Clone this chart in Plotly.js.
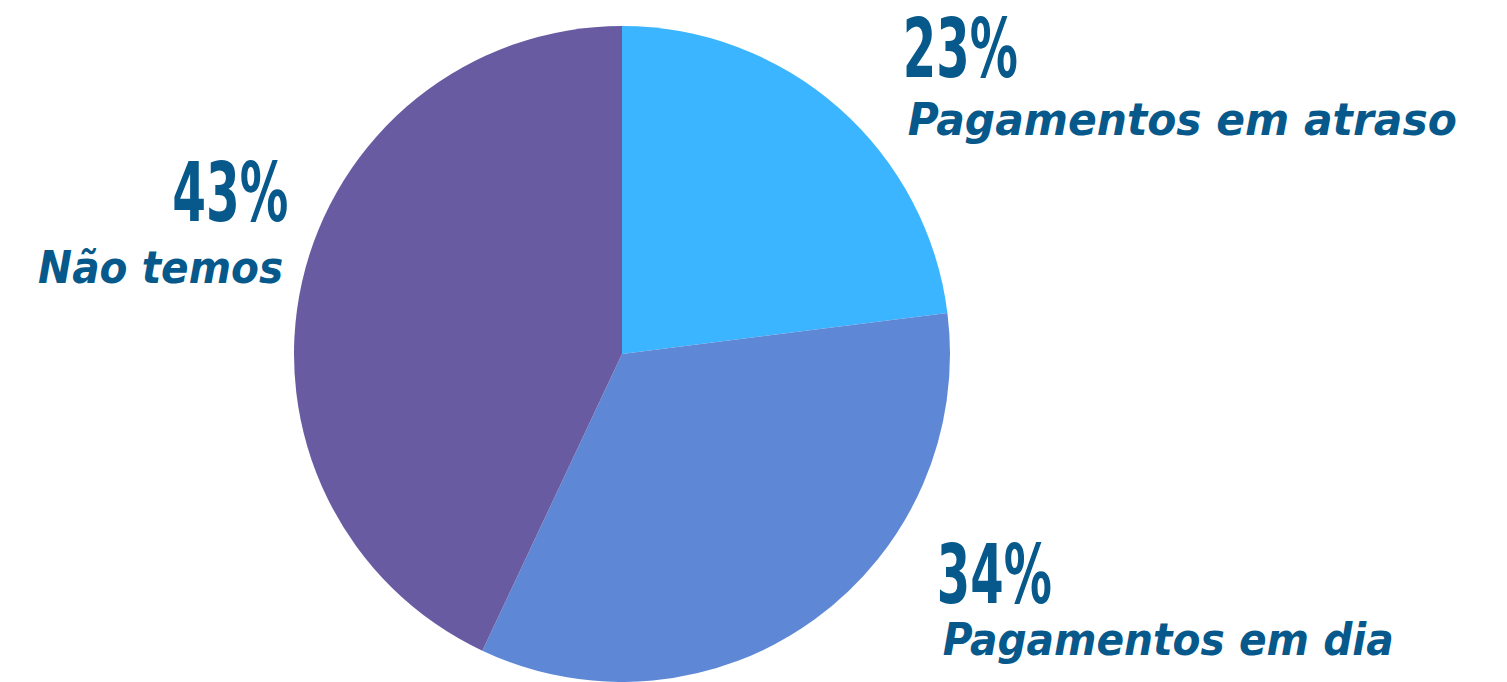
<!DOCTYPE html>
<html>
<head>
<meta charset="utf-8">
<script src="https://cdn.plot.ly/plotly-3.0.1.min.js"></script>
<style>
  html, body { margin: 0; padding: 0; background: #ffffff; }
  #chart { width: 1507px; height: 682px; }
</style>
</head>
<body>
<div id="chart"></div>
<script>
// Data
const categories = ["Pagamentos em atraso", "Pagamentos em dia", "Não temos"];
const values = [23, 34, 43];
const sliceColors = ["#3BB5FF", "#5E88D6", "#685BA2"];

// Label placement (pixel centres in the 1507x682 canvas) and fitted text widths
const W = 1507, H = 682;
const labelPlacement = [
  {xPct: 960.5, yPct: 48, wPct: 115, xLab: 1182.5, yLab: 119, wLab: 549},
  {xPct: 994.5, yPct: 574, wPct: 115, xLab: 1167.5, yLab: 639, wLab: 451},
  {xPct: 230, yPct: 193, wPct: 116, xLab: 160.5, yLab: 267, wLab: 245}
];

const textColor = "#06598A";
const pctFont = {family: "DejaVu Sans Condensed, DejaVu Sans, sans-serif", size: 82, color: textColor, weight: 700};
const labFont = {family: "DejaVu Sans, sans-serif", size: 45, color: textColor, weight: 700, style: "italic"};

const annotations = [];
const fitWidths = [];
categories.forEach((c, i) => {
  const p = labelPlacement[i];
  annotations.push({
    xref: "paper", yref: "paper",
    x: p.xPct / W, y: 1 - p.yPct / H,
    xanchor: "center", yanchor: "middle",
    text: values[i] + "%", showarrow: false, font: pctFont
  });
  fitWidths.push(p.wPct);
  annotations.push({
    xref: "paper", yref: "paper",
    x: p.xLab / W, y: 1 - p.yLab / H,
    xanchor: "center", yanchor: "middle",
    text: c, showarrow: false, font: labFont
  });
  fitWidths.push(p.wLab);
});

const cx = 622, cy = 354, r = 328;
const trace = {
  type: "pie",
  labels: categories,
  values: values,
  sort: false,
  direction: "clockwise",
  rotation: 0,
  marker: {colors: sliceColors, line: {width: 0}},
  textinfo: "none",
  hoverinfo: "label+percent",
  domain: {
    x: [(cx - r) / W, (cx + r) / W],
    y: [(H - cy - r) / H, (H - cy + r) / H]
  }
};

const layout = {
  width: W, height: H,
  margin: {l: 0, r: 0, t: 0, b: 0},
  paper_bgcolor: "#ffffff",
  showlegend: false,
  annotations: annotations
};

Plotly.newPlot("chart", [trace], layout, {displayModeBar: false, staticPlot: true}).then(gd => {
  const texts = gd.querySelectorAll(".annotation-text");
  texts.forEach((t, i) => {
    if (fitWidths[i]) {
      t.setAttribute("textLength", fitWidths[i]);
      t.setAttribute("lengthAdjust", "spacingAndGlyphs");
    }
  });
});
</script>
</body>
</html>
